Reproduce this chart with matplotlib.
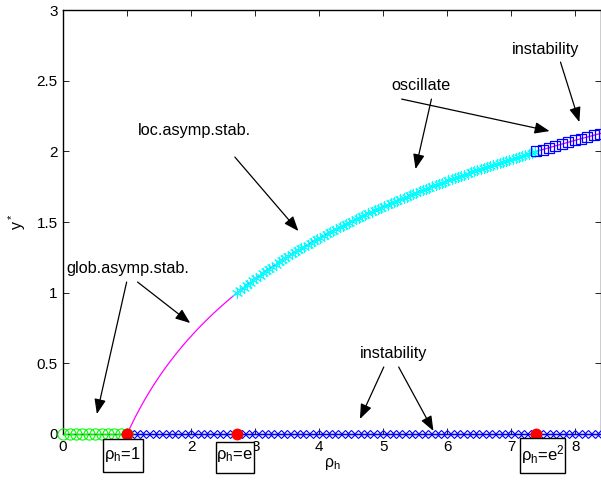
import numpy as np
import matplotlib
matplotlib.use("Agg")
import matplotlib.pyplot as plt
from matplotlib.patches import Rectangle

plt.rcParams['font.family'] = ['Liberation Sans', 'DejaVu Sans']
plt.rcParams['mathtext.fontset'] = 'custom'
plt.rcParams['mathtext.rm'] = 'Liberation Sans'
plt.rcParams['mathtext.it'] = 'Liberation Sans'

# data
x_max = 8.4
rho_glob = np.arange(0, 1.0001, 0.1)          # trivial equilibrium, stable
rho_unst = np.arange(1.0, x_max + 0.001, 0.1)  # trivial equilibrium, unstable
rho_curve = np.linspace(1.0, x_max, 400)
rho_loc = np.arange(np.e, np.e**2 + 0.001, 0.05)
rho_osc = np.arange(np.e**2, x_max + 0.001, 0.1)
rho_crit = [1.0, np.e, np.e**2]
crit_labels = ['ρ$_\\mathregular{h}$=1', 'ρ$_\\mathregular{h}$=e', 'ρ$_\\mathregular{h}$=e$^\\mathregular{2}$']
x_ticks = [0, 1, 2, 3, 4, 5, 6, 7, 8]
y_ticks = [0, 0.5, 1, 1.5, 2, 2.5, 3]

fig = plt.figure(figsize=(6.01, 4.86), dpi=100)
ax = fig.add_axes([0.105, 0.107, 0.895, 0.872])

ax.plot(rho_curve, np.log(rho_curve), color='magenta', lw=0.9, zorder=2)
ax.plot(rho_unst, np.zeros_like(rho_unst), color='blue', lw=0.9, marker='D',
        ms=4.5, mfc='none', mec='blue', mew=0.8, zorder=3, clip_on=False)
ax.plot(rho_glob, np.zeros_like(rho_glob), color='lime', lw=0.9, ls='--', marker='o',
        ms=8, mfc='none', mec='lime', mew=0.8, zorder=3, clip_on=False)
ax.plot(rho_loc, np.log(rho_loc), ls='none', marker=(6, 2, 0), ms=8,
        mec='cyan', mew=0.7, zorder=3)
ax.plot(rho_osc, np.log(rho_osc), ls='none', marker='s', ms=6.5,
        mfc='none', mec='blue', mew=0.9, zorder=3, clip_on=False)
ax.plot(rho_crit, [0, 0, 0], ls='none', marker='o', ms=7.5, color='red', zorder=5,
        clip_on=False)

ax.set_xlim(0, x_max)
ax.set_ylim(0, 3)
ax.set_xticks(x_ticks)
ax.set_yticks(y_ticks)
# the "1" tick label is hidden under the ρh=1 box in the reference
ax.set_xticklabels(['' if t == 1 else str(t) for t in x_ticks])
ax.set_yticklabels(['0', '0.5', '1', '1.5', '2', '2.5', '3'])
ax.tick_params(direction='in', length=4, labelsize=11, top=True, right=True,
               width=0.6, pad=4)
for s in ax.spines.values():
    s.set_linewidth(1.0)
ax.set_xlabel('ρ$_\\mathregular{h}$', fontsize=11.5, labelpad=2)
ax.set_ylabel('y$^*$', fontsize=11.5, labelpad=6)

arr = dict(arrowstyle='-|>,head_length=0.9,head_width=0.35', color='black', lw=0.9,
           shrinkA=0, shrinkB=0)

def px(xp, yp):
    return ((xp - 63) / 64.5, (434 - yp) / 141.3)

fs = 11.7
# glob.asymp.stab.
ax.text(*px(128, 268), 'glob.asymp.stab.', fontsize=fs, ha='center', va='center')
ax.annotate('', xy=px(97, 414), xytext=px(127, 282), arrowprops=arr)
ax.annotate('', xy=px(191, 323), xytext=px(138, 282), arrowprops=arr)
# loc.asymp.stab.
ax.text(*px(195, 130), 'loc.asymp.stab.', fontsize=fs, ha='center', va='center')
ax.annotate('', xy=px(300, 231), xytext=px(236, 157), arrowprops=arr)
# oscillate
ax.text(*px(423, 85), 'oscillate', fontsize=fs, ha='center', va='center')
ax.annotate('', xy=px(553, 131), xytext=px(404, 99), arrowprops=arr)
ax.annotate('', xy=px(418, 169), xytext=px(434, 99), arrowprops=arr)
# instability upper
ax.text(*px(549, 49), 'instability', fontsize=fs, ha='center', va='center')
ax.annotate('', xy=px(583, 122), xytext=px(564, 62), arrowprops=arr)
# instability lower
ax.text(*px(396, 353), 'instability', fontsize=fs, ha='center', va='center')
ax.annotate('', xy=px(362, 419), xytext=px(386, 367), arrowprops=arr)
ax.annotate('', xy=px(436, 431), xytext=px(401, 367), arrowprops=arr)

# boxes (pixel extents: left, top, right, bottom)
box_px = [(103, 439, 143, 472), (217, 442, 255, 473), (523, 438, 569, 473)]
for (l, t, r, b), lab in zip(box_px, crit_labels):
    x0, y0 = px(l, b)
    x1, y1 = px(r, t)
    ax.add_patch(Rectangle((x0, y0), x1 - x0, y1 - y0, fc='white', ec='black',
                           lw=1.0, clip_on=False, zorder=9))
    xc, yc = px((l + r) / 2, (t + b) / 2 - 1)
    ax.text(xc, yc, lab, fontsize=12, ha='center', va='center', clip_on=False,
            zorder=10)

fig.savefig('out.png', dpi=100)
